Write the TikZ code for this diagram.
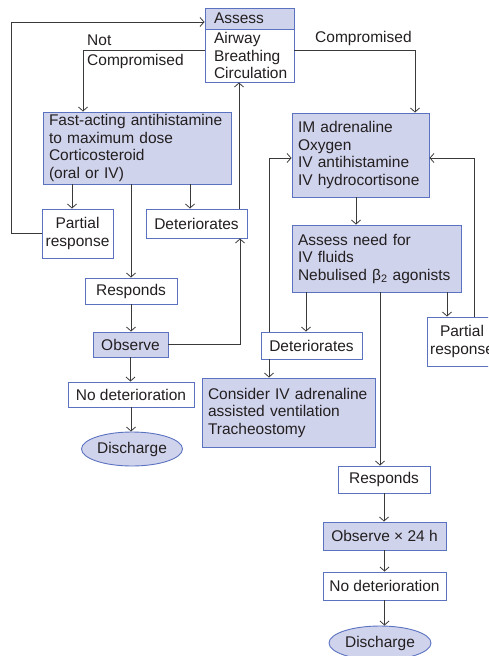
\documentclass[tikz,border=0pt]{standalone}
\usepackage{fontspec}
\setmainfont{Liberation Sans}
\usetikzlibrary{arrows.meta, shapes.geometric}
\definecolor{cfill}{HTML}{D0D3EC}
\definecolor{cedge}{HTML}{5B72C0}
\definecolor{cline}{HTML}{3A3A3A}
\definecolor{ctext}{HTML}{231F20}
\tikzset{
  every picture/.style={x=1pt, y=-1pt, font=\fontsize{15.5}{17.5}\selectfont, text=ctext},
  box/.style={draw=cedge, line width=0.9pt, fill=white, inner xsep=0pt, inner ysep=0pt, align=center},
  step box/.style={box, fill=cfill},
  txt/.style={inner xsep=6pt, text width=#1, align=left},
  term/.style={ellipse, draw=cedge, line width=0.9pt, fill=cfill, inner sep=0pt, minimum width=101pt, minimum height=34pt},
  arr/.style={-{Straight Barb[length=4pt, width=9pt]}, draw=cline, line width=0.8pt},
  lbl/.style={inner sep=0pt},
}

\begin{document}
\begin{tikzpicture}
  \useasboundingbox (0,0) rectangle (488,656);
  \clip (0,0) rectangle (488,656);

  % assessment block
  \node[step box, minimum width=89pt, minimum height=21pt, txt=71pt, inner xsep=9pt] (assess) at (249.5,18.5) {Assess};
  \node[box, minimum width=89pt, minimum height=53pt, txt=71pt, inner xsep=9pt] (abc) at (249.5,55.5) {Airway\\Breathing\\Circulation};

  % not compromised branch
  \node[step box, minimum height=72pt, txt=176pt] (fast) at (137,148) {Fast-acting antihistamine\\to maximum dose\\Corticosteroid\\(oral or IV)};
  \node[box, minimum width=71pt, minimum height=49pt] (partialL) at (77.5,233.5) {Partial\\response};
  \node[box, minimum width=101pt, minimum height=29pt] (detL) at (196.5,223.5) {Deteriorates};
  \node[box, minimum width=92pt, minimum height=26pt] (respL) at (131,291) {Responds};
  \node[step box, minimum width=75pt, minimum height=25pt] (obsL) at (130.5,344.5) {Observe};
  \node[box, minimum width=126pt, minimum height=25pt] (nodetL) at (131,394.5) {No deterioration};
  \node[term] (disL) at (132,449) {Discharge};

  % compromised branch
  \node[step box, minimum height=84pt, txt=125pt] (im) at (360.5,155) {IM adrenaline\\Oxygen\\IV antihistamine\\IV hydrocortisone};
  \node[step box, minimum height=67pt, txt=157pt] (need) at (376.5,258.5) {Assess need for\\IV fluids\\Nebulised β\textsubscript{2} agonists};
  \node[box, minimum width=101pt, minimum height=27pt] (detR) at (311.5,345.5) {Deteriorates};
  \node[box, minimum width=70pt, minimum height=49pt] (partialR) at (462,341.5) {Partial\\response};
  \node[step box, minimum height=69pt, txt=161pt] (consider) at (288.5,412.5) {Consider IV adrenaline\\assisted ventilation\\Tracheostomy};
  \node[box, minimum width=92pt, minimum height=27pt] (respR) at (384,479.5) {Responds};
  \node[step box, minimum width=123pt, minimum height=28pt] (obsR) at (384.5,536) {Observe × 24 h};
  \node[box, minimum width=123pt, minimum height=28pt] (nodetR) at (384.5,586) {No deterioration};
  \node[term, minimum width=102pt] (disR) at (380,643) {Discharge};

  % branch labels
  \node[lbl, anchor=south west] (lnot) at (87,46) {Not};
  \node[lbl, anchor=north west] (lnotc) at (87,54) {Compromised};
  \node[lbl, anchor=south west] (lcomp) at (315,46) {Compromised};

  % connectors, left side
  \draw[arr] (partialL.west) -- ++(-30,0) |- ([yshift=-3.5]assess.west);
  \draw[arr] ([yshift=5.5]abc.west) -| ([xshift=-54]fast.north);
  \draw[arr] ([xshift=-5.5]partialL.north |- fast.south) -- ([xshift=-5.5]partialL.north);
  \draw[arr] (fast.south -| respL.north) -- (respL.north);
  \draw[arr] ([xshift=-6.5]detL.north |- fast.south) -- ([xshift=-6.5]detL.north);
  \draw[arr] ([xshift=42.5]detL.north) -- ([xshift=42.5]detL.north |- abc.south);
  \draw[arr] (obsL.east) -| ([xshift=43.5]detL.south);
  \draw[arr] (respL.south) -- (respL.south |- obsL.north);
  \draw[arr] (obsL.south) -- (obsL.south |- nodetL.north);
  \draw[arr] (nodetL.south) -- (nodetL.south |- disL.north);

  % connectors, right side
  \draw[arr] ([yshift=5.5]abc.east) -| ([xshift=54.5]im.north);
  \draw[arr] ([xshift=-4.5]im.south) -- ([xshift=-4.5]im.south |- need.north);
  \draw[arr] ([xshift=-5.5]detR.north |- need.south) -- ([xshift=-5.5]detR.north);
  \draw[arr] ([xshift=-15]partialR.north |- need.south) -- ([xshift=-15]partialR.north);
  \draw[arr] ([xshift=-4]respR.north |- need.south) -- ([xshift=-4]respR.north);
  \draw[arr] ([xshift=-42.5]detR.north) |- ([yshift=-3]im.west);
  \draw[arr] ([xshift=12]partialR.north) |- ([yshift=-3]im.east);
  \draw[arr] ([xshift=-42.5]detR.south) -- ([xshift=-42.5]detR.south |- consider.north);
  \draw[arr] (respR.south) -- (respR.south |- obsR.north);
  \draw[arr] (obsR.south) -- (obsR.south |- nodetR.north);
  \draw[arr] (nodetR.south) -- (nodetR.south |- disR.north);
\end{tikzpicture}
\end{document}
